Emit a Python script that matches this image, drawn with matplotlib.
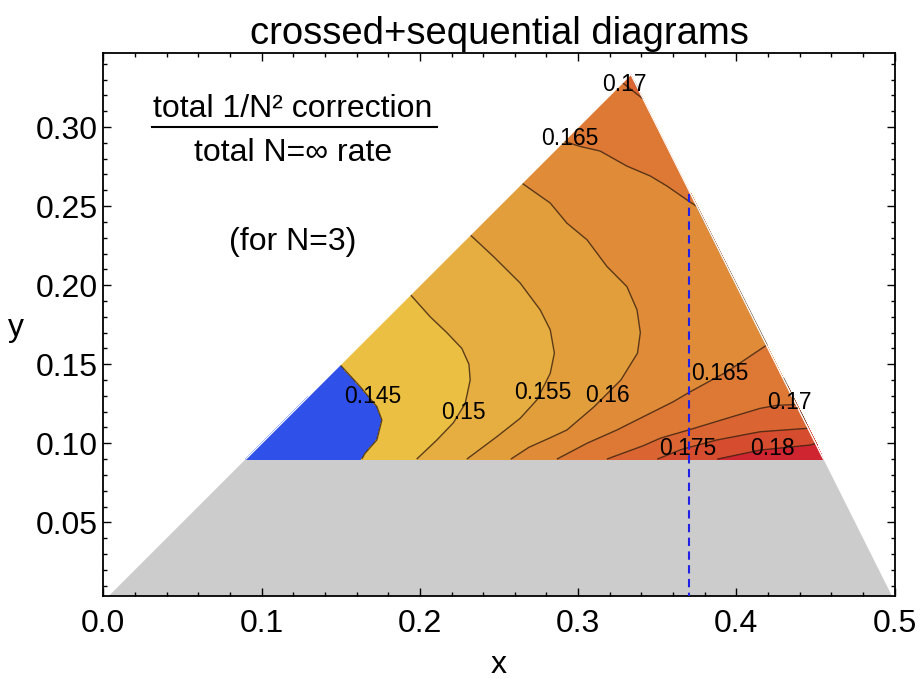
import numpy as np
import matplotlib.pyplot as plt
import matplotlib.tri as mtri
from matplotlib.patches import Polygon

plt.rcParams['font.family'] = ['Liberation Sans', 'DejaVu Sans']

# Dalitz-like triangle and the cut below which nothing is computed
tri_x = [0.0, 0.5, 1 / 3]
tri_y = [0.0, 0.0, 1 / 3]
y_cut = 0.09
x_marker = 0.37

# contour levels that are drawn and labelled
levels_drawn = [0.145, 0.15, 0.155, 0.16, 0.165, 0.17, 0.175, 0.18]
# fill colour of each band: below 0.145, between the levels, above 0.18
band_colors = ['#3050ea', '#ebbf42', '#e6ad40', '#e39e3c', '#e08b38',
               '#dd7835', '#da6532', '#d64c2e', '#cf2530']

# contour traces (x, y of points on each level)
c145_x = [0.1496, 0.1623, 0.1728, 0.1760, 0.1728, 0.1654, 0.1633]
c145_y = [0.1496, 0.1358, 0.1232, 0.1147, 0.1021, 0.0937, 0.0900]

c150_x = [0.1940, 0.2065, 0.2170, 0.2265, 0.2310, 0.2318, 0.2286, 0.2212, 0.2107, 0.1980]
c150_y = [0.1940, 0.1800, 0.1700, 0.1600, 0.1500, 0.1400, 0.1250, 0.1130, 0.1020, 0.0900]

c155_x = [0.2318, 0.2465, 0.2634, 0.2760, 0.2824, 0.2850, 0.2824, 0.2740, 0.2634, 0.2487, 0.2297]
c155_y = [0.2318, 0.2181, 0.2013, 0.1844, 0.1717, 0.1570, 0.1443, 0.1275, 0.1158, 0.1042, 0.0900]

c160_x = [0.2645, 0.2824, 0.2929, 0.3056, 0.3182, 0.3308, 0.3372, 0.3393, 0.3375,
          0.3270, 0.3100, 0.2929, 0.2824, 0.2690, 0.2575]
c160_y = [0.2645, 0.2519, 0.2392, 0.2287, 0.2118, 0.1991, 0.1844, 0.1700, 0.1570,
          0.1400, 0.1230, 0.1084, 0.1035, 0.0975, 0.0900]

# level 0.165 appears twice: near the apex and in the lower right
c165a_x = [0.2910, 0.3013, 0.3139, 0.3308, 0.3456, 0.3561, 0.3698, 0.3751]
c165a_y = [0.2910, 0.2877, 0.2848, 0.2753, 0.2690, 0.2627, 0.2532, 0.2497]
c165b_x = [0.2866, 0.3056, 0.3245, 0.3456, 0.3600, 0.3698, 0.3941, 0.4193]
c165b_y = [0.0900, 0.1000, 0.1084, 0.1190, 0.1262, 0.1320, 0.1453, 0.1622]

c170a_x = [0.3280, 0.3350, 0.3411]
c170a_y = [0.3280, 0.3225, 0.3177]
c170b_x = [0.3182, 0.3413, 0.3519, 0.3698, 0.3941, 0.4151, 0.4257, 0.4380]
c170b_y = [0.0900, 0.0985, 0.1032, 0.1084, 0.1158, 0.1221, 0.1240, 0.1245]

c175_x = [0.3500, 0.3650, 0.3877, 0.4151, 0.4455]
c175_y = [0.0900, 0.0960, 0.1021, 0.1073, 0.1095]

c180_x = [0.3880, 0.4150, 0.4467, 0.4505]
c180_y = [0.0900, 0.0957, 0.0989, 0.1000]

# spot values: corners, inside the blue patch, right edge dip, yellow pocket, between bands
spot_x = [0.09, 0.455, 1 / 3, 0.155, 0.128, 0.3975, 0.19, 0.205, 0.372, 0.312, 0.258, 0.335]
spot_y = [0.09, 0.09, 1 / 3, 0.115, 0.104, 0.205, 0.13, 0.165, 0.185, 0.262, 0.16, 0.296]
spot_v = [0.139, 0.186, 0.1703, 0.1435, 0.1412, 0.1637, 0.1475, 0.1482, 0.1626, 0.1625,
          0.1525, 0.1675]

# contour labels as placed in the figure
label_txt = ['0.17', '0.165', '0.145', '0.15', '0.155', '0.16', '0.165', '0.17', '0.175', '0.18']
label_x = [0.3295, 0.2950, 0.1702, 0.2276, 0.2776, 0.3187, 0.3898, 0.4334, 0.3693, 0.4230]
label_y = [0.3268, 0.2926, 0.1295, 0.1195, 0.1322, 0.1301, 0.1443, 0.1258, 0.0964, 0.0964]

traces = [(c145_x, c145_y, 0.145), (c150_x, c150_y, 0.15), (c155_x, c155_y, 0.155),
          (c160_x, c160_y, 0.16), (c165a_x, c165a_y, 0.165), (c165b_x, c165b_y, 0.165),
          (c170a_x, c170a_y, 0.17), (c170b_x, c170b_y, 0.17), (c175_x, c175_y, 0.175),
          (c180_x, c180_y, 0.18)]

px, py, pv = list(spot_x), list(spot_y), list(spot_v)
for xs, ys, lev in traces:
    px += xs
    py += ys
    pv += [lev] * len(xs)
px, py, pv = np.array(px), np.array(py), np.array(pv)

tri = mtri.Triangulation(px, py)
# drop the flat slivers that points along the triangle edges leave behind
t = tri.triangles
area = 0.5 * np.abs((px[t[:, 1]] - px[t[:, 0]]) * (py[t[:, 2]] - py[t[:, 0]])
                    - (px[t[:, 2]] - px[t[:, 0]]) * (py[t[:, 1]] - py[t[:, 0]]))
tri.set_mask(area < 2e-6)

# nudge levels up a hair so points lying exactly on a level fall in the band below
eps = 1e-7
cut_levels = [lv + eps for lv in levels_drawn]

fig = plt.figure(figsize=(9.21, 6.79), dpi=100)
ax = fig.add_axes([0.1122, 0.1222, 0.8592, 0.8002])

# grey part of the triangle below the cut
x_left_cut = y_cut
x_right_cut = tri_x[1] - (tri_x[1] - tri_x[2]) * y_cut / tri_y[2]
ax.add_patch(Polygon([(tri_x[0], tri_y[0]), (tri_x[1], tri_y[1]), (x_right_cut, y_cut),
                      (x_left_cut, y_cut)], closed=True, facecolor='#cccccc',
                     edgecolor='none', zorder=1))

ax.tricontourf(tri, pv, levels=[0.10] + cut_levels + [0.20], colors=band_colors, zorder=2)
ax.tricontour(tri, pv, levels=cut_levels, colors='#3a2510', linewidths=1.0,
              alpha=0.8, zorder=3)
# keep the slanted sides of the coloured part crisp
ax.plot([x_left_cut, tri_x[2], x_right_cut], [y_cut, tri_y[2], y_cut], color='white',
        lw=1.0, zorder=3.5)

for txt, lx, ly in zip(label_txt, label_x, label_y):
    ax.text(lx, ly, txt, fontsize=16.5, ha='center', va='center', zorder=4)

y_edge = (tri_x[1] - x_marker) * tri_y[2] / (tri_x[1] - tri_x[2])
ax.plot([x_marker, x_marker], [0, y_edge], color='#2020e6', lw=1.5,
        linestyle=(0, (4, 2.6)), zorder=5)

ax.set_xlim(0, 0.5)
ax.set_ylim(0.0034, 0.347)
ax.set_xticks([0.0, 0.1, 0.2, 0.3, 0.4, 0.5])
ax.set_xticks(np.arange(0, 0.5001, 0.02), minor=True)
ax.set_yticks([0.05, 0.10, 0.15, 0.20, 0.25, 0.30])
ax.set_yticks(np.arange(0.01, 0.3401, 0.01), minor=True)
ax.xaxis.set_major_formatter(plt.FuncFormatter(lambda v, p: f'{v:.1f}'))
ax.yaxis.set_major_formatter(plt.FuncFormatter(lambda v, p: f'{v:.2f}'))
ax.tick_params(which='both', direction='in', top=True, right=True, width=1.0,
               labelsize=23)
ax.tick_params(which='major', length=5.5)
ax.tick_params(which='minor', length=2.7)
ax.tick_params(axis='x', pad=9)
ax.tick_params(axis='y', pad=4)
for sp in ax.spines.values():
    sp.set_linewidth(1.3)

ax.set_xlabel('x', fontsize=23, labelpad=8)
ax.set_ylabel('y', fontsize=23, rotation=0, va='center', ha='center')
ax.yaxis.set_label_coords(-0.110, 0.493)
ax.set_title('crossed+sequential diagrams', fontsize=27.5, pad=6)

# the ratio being shown
ax.text(0.1199, 0.3063, 'total 1/N² correction', fontsize=23, ha='center', va='baseline')
ax.plot([0.0306, 0.2111], [0.2997, 0.2997], color='black', lw=1.5)
ax.text(0.1199, 0.2782, 'total N=∞ rate', fontsize=23, ha='center', va='baseline')
ax.text(0.1199, 0.2223, '(for N=3)', fontsize=23, ha='center', va='baseline')

fig.savefig('out.png', dpi=100)
